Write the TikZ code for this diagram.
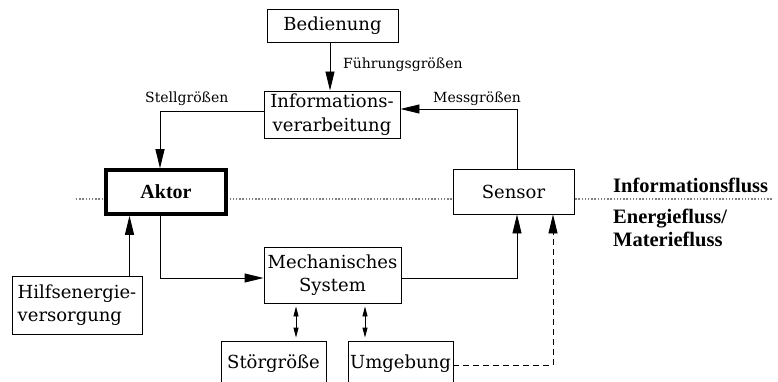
\documentclass[tikz,border=0pt]{standalone}
\usepackage{fontspec}
\setmainfont{DejaVu Serif}
\newfontfamily\boldlabelfont{Liberation Serif}
\usetikzlibrary{arrows.meta}
\begin{document}
\begin{tikzpicture}[x=1pt,y=-1pt,
  box/.style={draw,line width=0.9pt,fill=white,inner sep=0pt,align=center,
    font=\fontsize{18}{23.5}\selectfont},
  lbl/.style={font=\fontsize{14}{16}\selectfont,inner sep=0pt},
  bl/.style={font=\boldlabelfont\fontsize{20.5}{23}\selectfont\bfseries,inner sep=0pt,align=left},
  arr/.style={line width=0.9pt,-{Triangle[length=19pt,width=9pt]}},
  darr/.style={line width=0.9pt,shorten <=3pt,shorten >=3pt,
    {Triangle[length=10pt,width=5pt]}-{Triangle[length=10pt,width=5pt]}},
  flowline/.style={draw=gray,line width=1.5pt,dash pattern=on 1.3pt off 1.9pt},
]
\useasboundingbox (0,0) rectangle (778,382);
\clip (0,0) rectangle (778,382);
% dotted separation line
\coordinate (dl) at (76,199);
\coordinate (dr) at (773,199);
\draw[flowline] (dl) -- (dr);
% boxes
\node[box,minimum width=131,minimum height=33] (bed) at (332.5,25.5) {Bedienung};
\node[box,minimum width=136,minimum height=47] (info) at (332,114.5) {Informations-\\verarbeitung};
\node[box,line width=3.5pt,minimum width=120,minimum height=44,font=\boldlabelfont\fontsize{20}{22}\selectfont\bfseries] (aktor) at (166,192) {Aktor};
\node[box,minimum width=121,minimum height=45] (sensor) at (513.5,191.5) {Sensor};
\node[box,minimum width=137,minimum height=56] (mech) at (332.5,275) {Mechanisches\\System};
\node[box,minimum width=130,minimum height=58,align=left] (hilf) at (77,305) {Hilfsenergie-\\versorgung};
\node[box,minimum width=105,minimum height=45] (stoer) at (273.5,363.5) {Störgröße};
\node[box,minimum width=105,minimum height=45] (umg) at (400.5,363.5) {Umgebung};
% labels
\node[lbl,anchor=base west] (fg) at (343,69) {Führungsgrößen};
\node[lbl,anchor=base west] (sg) at (145,103) {Stellgrößen};
\node[lbl,anchor=base west] (mg) at (433,103) {Messgrößen};
\node[bl,anchor=base west] (if) at (613,193) {Informationsfluss};
\node[bl,anchor=base west] (ef) at (613,246) {Energiefluss/\\Materiefluss};
% connectors
\draw[arr] (bed.south -| 330,0) -- (info.north -| 330,0);
\draw[arr] ([yshift=3.5pt]info.west) -| ([xshift=-6pt]aktor.north);
\draw[arr] ([xshift=3.5pt]sensor.north) |- ([yshift=5.5pt]info.east);
\draw[arr] ([xshift=-6pt]aktor.south) |- ([yshift=-3pt]mech.west);
\draw[arr] ([xshift=-36.5pt]aktor.south |- hilf.north) -- ([xshift=-36.5pt]aktor.south);
\draw[arr] ([yshift=-3pt]mech.east) -| ([xshift=3.5pt]sensor.south);
\draw[darr] ([xshift=-36.5pt]mech.south) -- ([xshift=-36.5pt]mech.south |- stoer.north);
\draw[darr] ([xshift=32.5pt]mech.south) -- ([xshift=32.5pt]mech.south |- umg.north);
\draw[arr,dash pattern=on 6pt off 4pt] ([yshift=-1.5pt]umg.east) -| ([xshift=39.5pt]sensor.south);
\end{tikzpicture}
\end{document}
